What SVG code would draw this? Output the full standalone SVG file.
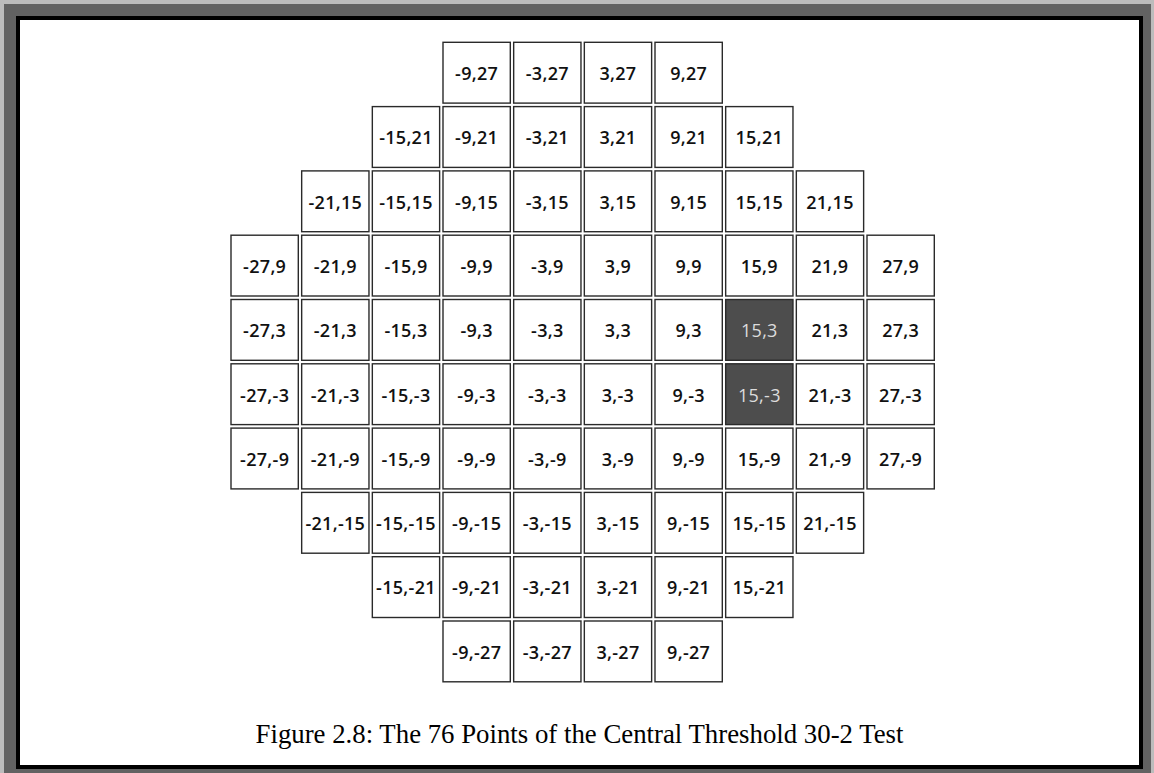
<svg xmlns="http://www.w3.org/2000/svg" width="1154" height="773" viewBox="0 0 1154 773">
<style>
.c rect{fill:#fff;stroke:#2a2a2a;stroke-width:1.4}
.c text{font-family:"Open Sans","Liberation Sans",sans-serif;font-size:18px;font-weight:600;fill:#111;text-anchor:middle;letter-spacing:0.3px}
.d rect{fill:#4d4d4d}
.d text{fill:#dcdcdc;font-weight:400}
.cap{font-family:"Liberation Serif","Times New Roman",serif;font-size:26.8px;fill:#000;text-anchor:middle}
</style>
<g id="frame">
<rect x="0" y="0" width="1154" height="773" fill="#bcbcbc"/>
<rect x="4" y="4" width="1147" height="773" fill="#626262"/>
<rect x="16" y="16" width="1127" height="753" fill="#000"/>
<rect x="20" y="20" width="1119" height="745" fill="#fff"/>
</g>
<g id="grid">
<g id="p-9_27" class="c" transform="translate(443,42.3)"><rect width="67.3" height="60.8"/><text x="33.65" y="37.8">-9,27</text></g>
<g id="p-3_27" class="c" transform="translate(513.67,42.3)"><rect width="67.3" height="60.8"/><text x="33.65" y="37.8">-3,27</text></g>
<g id="p3_27" class="c" transform="translate(584.33,42.3)"><rect width="67.3" height="60.8"/><text x="33.65" y="37.8">3,27</text></g>
<g id="p9_27" class="c" transform="translate(655,42.3)"><rect width="67.3" height="60.8"/><text x="33.65" y="37.8">9,27</text></g>

<g id="p-15_21" class="c" transform="translate(372.33,106.6)"><rect width="67.3" height="60.8"/><text x="33.65" y="37.8">-15,21</text></g>
<g id="p-9_21" class="c" transform="translate(443,106.6)"><rect width="67.3" height="60.8"/><text x="33.65" y="37.8">-9,21</text></g>
<g id="p-3_21" class="c" transform="translate(513.67,106.6)"><rect width="67.3" height="60.8"/><text x="33.65" y="37.8">-3,21</text></g>
<g id="p3_21" class="c" transform="translate(584.33,106.6)"><rect width="67.3" height="60.8"/><text x="33.65" y="37.8">3,21</text></g>
<g id="p9_21" class="c" transform="translate(655,106.6)"><rect width="67.3" height="60.8"/><text x="33.65" y="37.8">9,21</text></g>
<g id="p15_21" class="c" transform="translate(725.67,106.6)"><rect width="67.3" height="60.8"/><text x="33.65" y="37.8">15,21</text></g>

<g id="p-21_15" class="c" transform="translate(301.67,170.9)"><rect width="67.3" height="60.8"/><text x="33.65" y="37.8">-21,15</text></g>
<g id="p-15_15" class="c" transform="translate(372.33,170.9)"><rect width="67.3" height="60.8"/><text x="33.65" y="37.8">-15,15</text></g>
<g id="p-9_15" class="c" transform="translate(443,170.9)"><rect width="67.3" height="60.8"/><text x="33.65" y="37.8">-9,15</text></g>
<g id="p-3_15" class="c" transform="translate(513.67,170.9)"><rect width="67.3" height="60.8"/><text x="33.65" y="37.8">-3,15</text></g>
<g id="p3_15" class="c" transform="translate(584.33,170.9)"><rect width="67.3" height="60.8"/><text x="33.65" y="37.8">3,15</text></g>
<g id="p9_15" class="c" transform="translate(655,170.9)"><rect width="67.3" height="60.8"/><text x="33.65" y="37.8">9,15</text></g>
<g id="p15_15" class="c" transform="translate(725.67,170.9)"><rect width="67.3" height="60.8"/><text x="33.65" y="37.8">15,15</text></g>
<g id="p21_15" class="c" transform="translate(796.33,170.9)"><rect width="67.3" height="60.8"/><text x="33.65" y="37.8">21,15</text></g>

<g id="p-27_9" class="c" transform="translate(231,235.2)"><rect width="67.3" height="60.8"/><text x="33.65" y="37.8">-27,9</text></g>
<g id="p-21_9" class="c" transform="translate(301.67,235.2)"><rect width="67.3" height="60.8"/><text x="33.65" y="37.8">-21,9</text></g>
<g id="p-15_9" class="c" transform="translate(372.33,235.2)"><rect width="67.3" height="60.8"/><text x="33.65" y="37.8">-15,9</text></g>
<g id="p-9_9" class="c" transform="translate(443,235.2)"><rect width="67.3" height="60.8"/><text x="33.65" y="37.8">-9,9</text></g>
<g id="p-3_9" class="c" transform="translate(513.67,235.2)"><rect width="67.3" height="60.8"/><text x="33.65" y="37.8">-3,9</text></g>
<g id="p3_9" class="c" transform="translate(584.33,235.2)"><rect width="67.3" height="60.8"/><text x="33.65" y="37.8">3,9</text></g>
<g id="p9_9" class="c" transform="translate(655,235.2)"><rect width="67.3" height="60.8"/><text x="33.65" y="37.8">9,9</text></g>
<g id="p15_9" class="c" transform="translate(725.67,235.2)"><rect width="67.3" height="60.8"/><text x="33.65" y="37.8">15,9</text></g>
<g id="p21_9" class="c" transform="translate(796.33,235.2)"><rect width="67.3" height="60.8"/><text x="33.65" y="37.8">21,9</text></g>
<g id="p27_9" class="c" transform="translate(867,235.2)"><rect width="67.3" height="60.8"/><text x="33.65" y="37.8">27,9</text></g>

<g id="p-27_3" class="c" transform="translate(231,299.5)"><rect width="67.3" height="60.8"/><text x="33.65" y="37.8">-27,3</text></g>
<g id="p-21_3" class="c" transform="translate(301.67,299.5)"><rect width="67.3" height="60.8"/><text x="33.65" y="37.8">-21,3</text></g>
<g id="p-15_3" class="c" transform="translate(372.33,299.5)"><rect width="67.3" height="60.8"/><text x="33.65" y="37.8">-15,3</text></g>
<g id="p-9_3" class="c" transform="translate(443,299.5)"><rect width="67.3" height="60.8"/><text x="33.65" y="37.8">-9,3</text></g>
<g id="p-3_3" class="c" transform="translate(513.67,299.5)"><rect width="67.3" height="60.8"/><text x="33.65" y="37.8">-3,3</text></g>
<g id="p3_3" class="c" transform="translate(584.33,299.5)"><rect width="67.3" height="60.8"/><text x="33.65" y="37.8">3,3</text></g>
<g id="p9_3" class="c" transform="translate(655,299.5)"><rect width="67.3" height="60.8"/><text x="33.65" y="37.8">9,3</text></g>
<g id="p15_3" class="c d" transform="translate(725.67,299.5)"><rect width="67.3" height="60.8"/><text x="33.65" y="37.8">15,3</text></g>
<g id="p21_3" class="c" transform="translate(796.33,299.5)"><rect width="67.3" height="60.8"/><text x="33.65" y="37.8">21,3</text></g>
<g id="p27_3" class="c" transform="translate(867,299.5)"><rect width="67.3" height="60.8"/><text x="33.65" y="37.8">27,3</text></g>

<g id="p-27_-3" class="c" transform="translate(231,363.8)"><rect width="67.3" height="60.8"/><text x="33.65" y="37.8">-27,-3</text></g>
<g id="p-21_-3" class="c" transform="translate(301.67,363.8)"><rect width="67.3" height="60.8"/><text x="33.65" y="37.8">-21,-3</text></g>
<g id="p-15_-3" class="c" transform="translate(372.33,363.8)"><rect width="67.3" height="60.8"/><text x="33.65" y="37.8">-15,-3</text></g>
<g id="p-9_-3" class="c" transform="translate(443,363.8)"><rect width="67.3" height="60.8"/><text x="33.65" y="37.8">-9,-3</text></g>
<g id="p-3_-3" class="c" transform="translate(513.67,363.8)"><rect width="67.3" height="60.8"/><text x="33.65" y="37.8">-3,-3</text></g>
<g id="p3_-3" class="c" transform="translate(584.33,363.8)"><rect width="67.3" height="60.8"/><text x="33.65" y="37.8">3,-3</text></g>
<g id="p9_-3" class="c" transform="translate(655,363.8)"><rect width="67.3" height="60.8"/><text x="33.65" y="37.8">9,-3</text></g>
<g id="p15_-3" class="c d" transform="translate(725.67,363.8)"><rect width="67.3" height="60.8"/><text x="33.65" y="37.8">15,-3</text></g>
<g id="p21_-3" class="c" transform="translate(796.33,363.8)"><rect width="67.3" height="60.8"/><text x="33.65" y="37.8">21,-3</text></g>
<g id="p27_-3" class="c" transform="translate(867,363.8)"><rect width="67.3" height="60.8"/><text x="33.65" y="37.8">27,-3</text></g>

<g id="p-27_-9" class="c" transform="translate(231,428.1)"><rect width="67.3" height="60.8"/><text x="33.65" y="37.8">-27,-9</text></g>
<g id="p-21_-9" class="c" transform="translate(301.67,428.1)"><rect width="67.3" height="60.8"/><text x="33.65" y="37.8">-21,-9</text></g>
<g id="p-15_-9" class="c" transform="translate(372.33,428.1)"><rect width="67.3" height="60.8"/><text x="33.65" y="37.8">-15,-9</text></g>
<g id="p-9_-9" class="c" transform="translate(443,428.1)"><rect width="67.3" height="60.8"/><text x="33.65" y="37.8">-9,-9</text></g>
<g id="p-3_-9" class="c" transform="translate(513.67,428.1)"><rect width="67.3" height="60.8"/><text x="33.65" y="37.8">-3,-9</text></g>
<g id="p3_-9" class="c" transform="translate(584.33,428.1)"><rect width="67.3" height="60.8"/><text x="33.65" y="37.8">3,-9</text></g>
<g id="p9_-9" class="c" transform="translate(655,428.1)"><rect width="67.3" height="60.8"/><text x="33.65" y="37.8">9,-9</text></g>
<g id="p15_-9" class="c" transform="translate(725.67,428.1)"><rect width="67.3" height="60.8"/><text x="33.65" y="37.8">15,-9</text></g>
<g id="p21_-9" class="c" transform="translate(796.33,428.1)"><rect width="67.3" height="60.8"/><text x="33.65" y="37.8">21,-9</text></g>
<g id="p27_-9" class="c" transform="translate(867,428.1)"><rect width="67.3" height="60.8"/><text x="33.65" y="37.8">27,-9</text></g>

<g id="p-21_-15" class="c" transform="translate(301.67,492.4)"><rect width="67.3" height="60.8"/><text x="33.65" y="37.8" letter-spacing="0">-21,-15</text></g>
<g id="p-15_-15" class="c" transform="translate(372.33,492.4)"><rect width="67.3" height="60.8"/><text x="33.65" y="37.8" letter-spacing="0">-15,-15</text></g>
<g id="p-9_-15" class="c" transform="translate(443,492.4)"><rect width="67.3" height="60.8"/><text x="33.65" y="37.8">-9,-15</text></g>
<g id="p-3_-15" class="c" transform="translate(513.67,492.4)"><rect width="67.3" height="60.8"/><text x="33.65" y="37.8">-3,-15</text></g>
<g id="p3_-15" class="c" transform="translate(584.33,492.4)"><rect width="67.3" height="60.8"/><text x="33.65" y="37.8">3,-15</text></g>
<g id="p9_-15" class="c" transform="translate(655,492.4)"><rect width="67.3" height="60.8"/><text x="33.65" y="37.8">9,-15</text></g>
<g id="p15_-15" class="c" transform="translate(725.67,492.4)"><rect width="67.3" height="60.8"/><text x="33.65" y="37.8">15,-15</text></g>
<g id="p21_-15" class="c" transform="translate(796.33,492.4)"><rect width="67.3" height="60.8"/><text x="33.65" y="37.8">21,-15</text></g>

<g id="p-15_-21" class="c" transform="translate(372.33,556.7)"><rect width="67.3" height="60.8"/><text x="33.65" y="37.8" letter-spacing="0">-15,-21</text></g>
<g id="p-9_-21" class="c" transform="translate(443,556.7)"><rect width="67.3" height="60.8"/><text x="33.65" y="37.8">-9,-21</text></g>
<g id="p-3_-21" class="c" transform="translate(513.67,556.7)"><rect width="67.3" height="60.8"/><text x="33.65" y="37.8">-3,-21</text></g>
<g id="p3_-21" class="c" transform="translate(584.33,556.7)"><rect width="67.3" height="60.8"/><text x="33.65" y="37.8">3,-21</text></g>
<g id="p9_-21" class="c" transform="translate(655,556.7)"><rect width="67.3" height="60.8"/><text x="33.65" y="37.8">9,-21</text></g>
<g id="p15_-21" class="c" transform="translate(725.67,556.7)"><rect width="67.3" height="60.8"/><text x="33.65" y="37.8">15,-21</text></g>

<g id="p-9_-27" class="c" transform="translate(443,621)"><rect width="67.3" height="60.8"/><text x="33.65" y="37.8">-9,-27</text></g>
<g id="p-3_-27" class="c" transform="translate(513.67,621)"><rect width="67.3" height="60.8"/><text x="33.65" y="37.8">-3,-27</text></g>
<g id="p3_-27" class="c" transform="translate(584.33,621)"><rect width="67.3" height="60.8"/><text x="33.65" y="37.8">3,-27</text></g>
<g id="p9_-27" class="c" transform="translate(655,621)"><rect width="67.3" height="60.8"/><text x="33.65" y="37.8">9,-27</text></g>
</g>
<g id="connectors"/>
<text id="caption" class="cap" x="579.5" y="743.3">Figure 2.8: The 76 Points of the Central Threshold 30-2 Test</text>
</svg>
